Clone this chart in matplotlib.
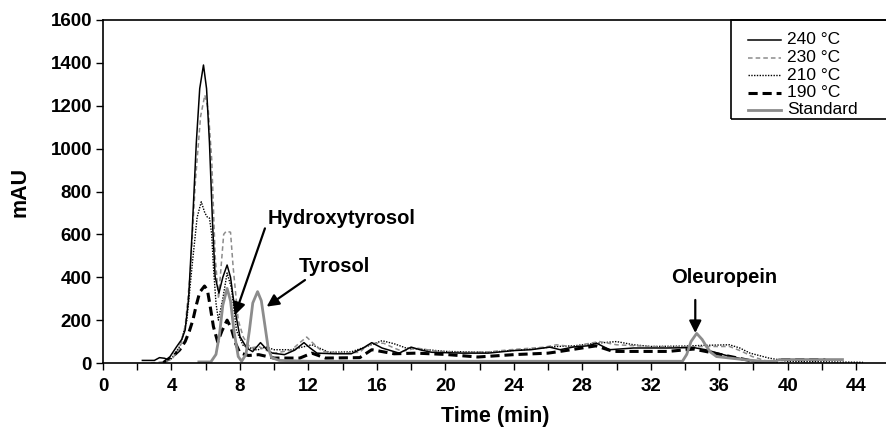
import matplotlib
matplotlib.use("Agg")
import matplotlib.pyplot as plt
from matplotlib.patches import Rectangle
from matplotlib.lines import Line2D
import numpy as np

plt.rcParams['font.family'] = ['Liberation Sans', 'DejaVu Sans']

# chromatogram traces: (time min, mAU)
s240 = [(2.3, 12), (3.0, 12), (3.3, 25), (3.6, 22), (3.8, 15), (4.0, 40), (4.3, 76), (4.6, 110),
        (4.8, 154), (5.0, 300), (5.2, 600), (5.45, 1026), (5.65, 1280), (5.87, 1390), (6.05, 1280),
        (6.22, 1026), (6.4, 650), (6.55, 403), (6.77, 326), (7.0, 400), (7.25, 457), (7.45, 400),
        (7.7, 250), (8.0, 123), (8.4, 70), (8.74, 53), (9.2, 95), (9.6, 60), (9.9, 46), (10.6, 39),
        (11.2, 60), (11.74, 95), (12.1, 70), (12.5, 46), (13.5, 43), (14.5, 43), (15.2, 70),
        (15.7, 95), (16.3, 70), (17.3, 46), (18.0, 74), (18.6, 60), (19.2, 50), (21.0, 46),
        (22.5, 46), (24.0, 58), (25.0, 62), (26.1, 74), (26.7, 62), (27.5, 75), (28.3, 80),
        (28.84, 92), (29.6, 62), (31.0, 70), (33.0, 70), (34.5, 72), (35.2, 62), (36.6, 31),
        (37.6, 15), (38.6, 0), (39.2, 0)]

s230 = [(2.8, 0), (3.5, 5), (4.0, 15), (4.5, 70), (4.8, 170), (5.1, 420), (5.4, 850), (5.7, 1150),
        (5.95, 1250), (6.15, 1180), (6.35, 950), (6.55, 500), (6.75, 300), (6.9, 450), (7.05, 600),
        (7.2, 615), (7.45, 610), (7.6, 450), (7.9, 200), (8.2, 120), (8.6, 70), (9.1, 77), (9.5, 60),
        (10.0, 46), (11.0, 60), (11.5, 95), (11.9, 121), (12.3, 90), (12.8, 54), (14.0, 46),
        (15.0, 50), (15.4, 80), (15.8, 92), (16.4, 92), (17.0, 70), (17.5, 54), (18.3, 70),
        (19.5, 55), (21.0, 50), (22.5, 52), (23.8, 62), (25.8, 74), (26.5, 85), (27.5, 75),
        (28.3, 90), (29.0, 100), (30.0, 85), (32.0, 77), (34.0, 75), (35.2, 77), (36.6, 77),
        (37.3, 55), (37.9, 31), (38.8, 8), (40.0, 0), (43.2, 0)]

s210 = [(3.5, 5), (4.0, 20), (4.5, 80), (4.9, 200), (5.2, 450), (5.5, 680), (5.74, 752), (5.95, 700),
        (6.1, 680), (6.22, 676), (6.35, 600), (6.45, 450), (6.6, 280), (6.74, 200), (7.0, 300),
        (7.25, 420), (7.5, 350), (7.8, 150), (8.2, 80), (9.0, 60), (9.5, 75), (10.0, 62), (11.0, 62),
        (12.2, 85), (13.2, 50), (14.5, 52), (15.5, 80), (16.3, 104), (17.0, 90), (17.7, 70),
        (18.5, 65), (20.0, 54), (22.5, 50), (24.6, 62), (26.5, 77), (27.5, 80), (28.8, 92),
        (30.0, 100), (31.0, 85), (32.0, 77), (34.0, 79), (35.0, 82), (36.6, 85), (37.2, 70),
        (37.8, 46), (38.9, 23), (40.0, 8), (44.4, 3)]

s190 = [(3.5, 0), (4.0, 30), (4.2, 40), (4.48, 61), (4.8, 100), (5.05, 150), (5.25, 200), (5.45, 270),
        (5.65, 330), (5.93, 359), (6.1, 340), (6.25, 270), (6.45, 170), (6.7, 98), (6.95, 150),
        (7.25, 200), (7.5, 160), (7.75, 90), (8.0, 47), (8.5, 35), (9.1, 39), (10.0, 23), (11.5, 23),
        (12.2, 46), (13.0, 23), (15.0, 25), (15.7, 62), (17.0, 43), (18.3, 46), (20.0, 40),
        (21.9, 28), (24.0, 39), (26.0, 46), (26.7, 54), (28.8, 80), (29.8, 54), (33.0, 54),
        (34.5, 65), (35.2, 54), (36.6, 31), (38.5, 0), (39.3, 0), (39.5, 16), (42.2, 16)]

standard = [(5.6, 5), (6.3, 5), (6.6, 40), (6.8, 130), (7.0, 270), (7.25, 348), (7.45, 290),
            (7.65, 150), (7.9, 30), (8.1, 8), (8.35, 40), (8.55, 150), (8.75, 280), (9.03, 333),
            (9.25, 290), (9.45, 180), (9.65, 70), (9.85, 25), (10.3, 12), (12.0, 8), (20.0, 8),
            (33.85, 8), (34.1, 40), (34.35, 100), (34.68, 138), (35.0, 110), (35.26, 76), (35.5, 50),
            (35.84, 30), (37.4, 16), (38.5, 8), (39.3, 8), (39.5, 16), (43.2, 16)]

labels = ['240 °C', '230 °C', '210 °C', '190 °C', 'Standard']

W, H = 887, 433
fig = plt.figure(figsize=(W / 100, H / 100), dpi=100)
ax = fig.add_axes([103 / W, 70 / H, 784 / W, 343 / H])

styles = {
    '240 °C': dict(color='black', lw=1.1, ls='-'),
    '230 °C': dict(color='#8c8c8c', lw=1.1, ls=(0, (3, 2))),
    '210 °C': dict(color='black', lw=1.0, ls=(0, (1, 1))),
    '190 °C': dict(color='black', lw=2.2, ls=(0, (3.0, 1.6))),
    'Standard': dict(color='#8c8c8c', lw=2.0, ls='-'),
}
series = dict(zip(labels, [s240, s230, s210, s190, standard]))

for name in ['190 °C', '210 °C', '230 °C', '240 °C', 'Standard']:
    t, v = np.array(series[name]).T
    ax.plot(t, v, **styles[name], solid_joinstyle='round')

ax.set_xlim(0, 45.8)
ax.set_ylim(0, 1600)
ax.set_xticks(np.arange(0, 46, 2))
ax.set_xticklabels([str(x) if x % 4 == 0 else '' for x in range(0, 46, 2)])
ax.set_yticks(np.arange(0, 1601, 200))
ax.tick_params(direction='out', length=5, width=1, labelsize=13.5)
ax.tick_params(axis='x', pad=6)
ax.tick_params(axis='y', pad=3)
for lab in ax.get_xticklabels() + ax.get_yticklabels():
    lab.set_fontweight('bold')
ax.spines['right'].set_visible(False)
for sp in ['left', 'bottom', 'top']:
    ax.spines[sp].set_linewidth(1.2)

ax.set_xlabel('Time (min)', fontsize=15.5, fontweight='bold', labelpad=8)
ax.set_ylabel('mAU', fontsize=15.5, fontweight='bold', labelpad=14)

arrow = dict(arrowstyle='-|>', color='black', lw=1.6, mutation_scale=18, shrinkA=0, shrinkB=0)
ax.annotate('', xy=(7.71, 224), xytext=(9.46, 628), arrowprops=arrow)
ax.text(9.6, 675, 'Hydroxytyrosol', fontsize=14.5, fontweight='bold', ha='left', va='center')
ax.annotate('', xy=(9.56, 263), xytext=(11.8, 387), arrowprops=arrow)
ax.text(13.5, 449, 'Tyrosol', fontsize=14.5, fontweight='bold', ha='center', va='center')
ax.annotate('', xy=(34.6, 140), xytext=(34.6, 294), arrowprops=arrow)
ax.text(36.3, 400, 'Oleuropein', fontsize=14.5, fontweight='bold', ha='center', va='center')

# legend box runs off the right edge, like the source
fig.patches.append(Rectangle((731 / W, 1 - 119 / H), 200 / W, 99 / H,
                             transform=fig.transFigure, fill=False, edgecolor='black', lw=1.2))
for i, name in enumerate(labels):
    y = 1 - (40 + 17.5 * i) / H
    fig.add_artist(Line2D([748 / W, 781 / W], [y, y], transform=fig.transFigure, **styles[name]))
    fig.text(787 / W, y, name, fontsize=12.5, ha='left', va='center')

fig.savefig('out.png', dpi=100)
